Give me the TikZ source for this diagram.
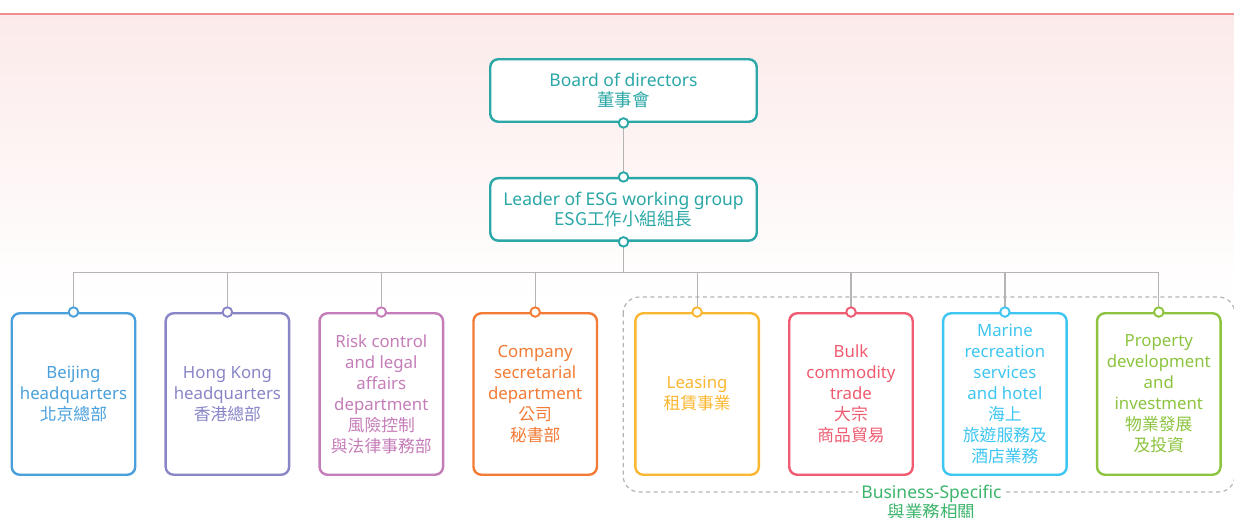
\documentclass[tikz,border=0pt]{standalone}
\usepackage{fontspec}
\setmainfont{Noto Sans}
\newfontfamily\cjk{Noto Sans CJK TC}
\usetikzlibrary{positioning,calc}

\definecolor{esgteal}{HTML}{2AA7A6}
\definecolor{bjblue}{HTML}{4AA0DC}
\definecolor{hkpurple}{HTML}{8886C6}
\definecolor{riskpink}{HTML}{C57DB9}
\definecolor{secorange}{HTML}{F27B35}
\definecolor{leaseyellow}{HTML}{FBB731}
\definecolor{bulkred}{HTML}{EF5B70}
\definecolor{marinecyan}{HTML}{3EC6F2}
\definecolor{propgreen}{HTML}{8CC43F}
\definecolor{busgreen}{HTML}{3DB56C}
\definecolor{linkgray}{HTML}{B4B4B4}
\definecolor{bgpink}{HTML}{FCEAEA}
\definecolor{topred}{HTML}{F08C8C}

\tikzset{
  unit/.style={draw=#1, text=#1, line width=2.4pt, rounded corners=8pt,
    fill=white, align=center, minimum width=123.5pt, minimum height=161.5pt,
    inner sep=1pt, font=\fontsize{16.8}{21}\selectfont},
  head/.style={unit=#1, minimum width=266.5pt, minimum height=62.5pt,
    font=\fontsize{17.5}{19.5}\selectfont},
  dot/.style={circle, draw=#1, fill=white, line width=1.9pt,
    inner sep=0pt, minimum size=9.5pt},
  link/.style={draw=linkgray, line width=1.2pt},
}

\begin{document}
\begin{tikzpicture}[x=1pt,y=-1pt]
  % page and background
  \useasboundingbox (0,0) rectangle (1234,518);
  \fill[white] (0,0) rectangle (1234,518);
  \shade[top color=bgpink, bottom color=white] (0,14) rectangle (1234,300);
  \draw[topred, line width=1.6pt] (0,14) -- (1234,14);

  % top of the chart
  \node[head=esgteal] (a1) at (623.5,90.5) {Board of directors\\{\cjk 董事會}};
  \node[head=esgteal, below=54pt of a1] (a2) {Leader of ESG working group\\{\cjk ESG工作小組組長}};

  % units
  \node[unit=bjblue] (c1) at (73.5,394) {Beijing\\headquarters\\{\cjk 北京總部}};
  \node[unit=hkpurple, right=28pt of c1] (c2) {Hong Kong\\headquarters\\{\cjk 香港總部}};
  \node[unit=riskpink, right=28pt of c2] (c3) {Risk control\\and legal\\affairs\\department\\{\cjk 風險控制}\\{\cjk 與法律事務部}};
  \node[unit=secorange, right=28pt of c3] (c4) {Company\\secretarial\\department\\{\cjk 公司}\\{\cjk 秘書部}};
  \node[unit=leaseyellow, right=36pt of c4] (c5) {Leasing\\{\cjk 租賃事業}};
  \node[unit=bulkred, right=28pt of c5] (c6) {Bulk\\commodity\\trade\\{\cjk 大宗}\\{\cjk 商品貿易}};
  \node[unit=marinecyan, right=28pt of c6] (c7) {Marine\\recreation\\services\\and hotel\\{\cjk 海上}\\{\cjk 旅遊服務及}\\{\cjk 酒店業務}};
  \node[unit=propgreen, right=28pt of c7] (c8) {Property\\development\\and\\investment\\{\cjk 物業發展}\\{\cjk 及投資}};

  % business group
  \draw[linkgray, line width=1.2pt, dash pattern=on 4pt off 3.5pt, rounded corners=16pt]
    ($(c5.north west)+(-11,-15)$) rectangle ($(c8.south east)+(13,16)$);
  \node[fill=white, text=busgreen, align=center, inner sep=3pt,
    font=\fontsize{17.5}{18}\selectfont, anchor=north] (g) at (931.5,482)
    {Business-Specific\\{\cjk 與業務相關}};

  % connectors
  \coordinate (t) at ($(a2.south)+(0,31)$);
  \draw[link] (a1.south) -- (a2.north);
  \draw[link] (a2.south) -- (t);
  \foreach \n in {c1,c2,c3,c4,c5,c6,c7,c8}
    \draw[link] (\n.north) |- (t);

  % dots
  \node[dot=esgteal] at (a1.south) {};
  \node[dot=esgteal] at (a2.north) {};
  \node[dot=esgteal] at (a2.south) {};
  \node[dot=bjblue] at (c1.north) {};
  \node[dot=hkpurple] at (c2.north) {};
  \node[dot=riskpink] at (c3.north) {};
  \node[dot=secorange] at (c4.north) {};
  \node[dot=leaseyellow] at (c5.north) {};
  \node[dot=bulkred] at (c6.north) {};
  \node[dot=marinecyan] at (c7.north) {};
  \node[dot=propgreen] at (c8.north) {};
\end{tikzpicture}
\end{document}
